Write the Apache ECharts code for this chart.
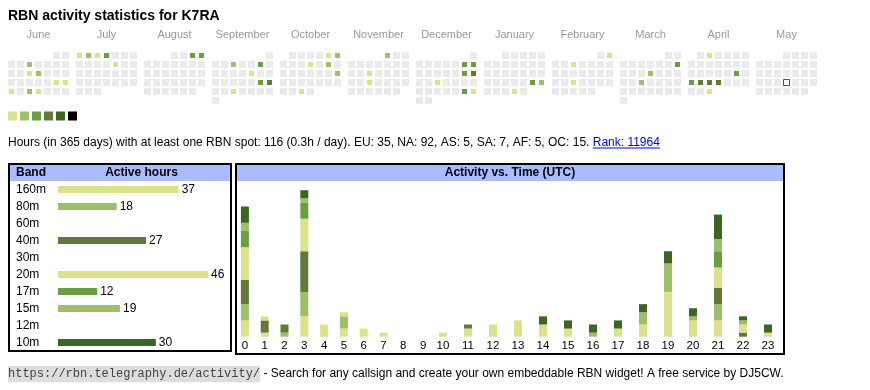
<!DOCTYPE html>
<html><head><meta charset="utf-8">
<script src="https://cdn.jsdelivr.net/npm/echarts@6/dist/echarts.min.js"></script>
<style>html,body{margin:0;padding:0;background:#fff}#c{width:870px;height:390px}</style>
</head><body><div id="c"></div>
<script>
// ---------- data ----------
const titleText = 'RBN activity statistics for K7RA';
const months = ['2024-06','2024-07','2024-08','2024-09','2024-10','2024-11','2024-12','2025-01','2025-02','2025-03','2025-04','2025-05'];
const monthNames = ['June','July','August','September','October','November','December','January','February','March','April','May'];
const levelColors = ['#dbe28b','#9dbf69','#699e43','#62793a','#3b6626','#000000'];
const activeDays = [
  ['2024-06-05',2],['2024-06-12',1],['2024-06-13',2],['2024-06-22',1],['2024-06-23',1],['2024-06-24',1],['2024-06-26',2],['2024-06-27',1],
  ['2024-07-01',1],['2024-07-02',2],['2024-07-03',1],['2024-07-04',3],['2024-07-12',1],
  ['2024-08-03',3],['2024-08-04',3],
  ['2024-09-04',2],['2024-09-07',3],['2024-09-13',1],['2024-09-21',3],['2024-09-22',4],['2024-09-25',1],
  ['2024-10-05',1],['2024-10-06',2],['2024-10-10',1],['2024-10-12',2],['2024-10-20',2],['2024-10-30',1],
  ['2024-11-01',2],['2024-11-13',1],['2024-11-20',1],
  ['2024-12-07',3],['2024-12-08',3],['2024-12-14',3],['2024-12-15',4],['2024-12-18',1],['2024-12-28',3],['2024-12-29',1],
  ['2025-01-25',3],['2025-01-26',2],['2025-01-30',1],
  ['2025-02-02',1],['2025-02-05',1],['2025-02-19',1],
  ['2025-03-09',3],['2025-03-13',2],['2025-03-19',2],
  ['2025-04-02',1],['2025-04-19',3],['2025-04-21',3],['2025-04-22',4],['2025-04-23',4],['2025-04-24',4],['2025-04-30',1]
];
const today = '2025-05-22';
const statsText = 'Hours (in 365 days) with at least one RBN spot: 116 (0.3h / day). EU: 35, NA: 92, AS: 5, SA: 7, AF: 5, OC: 15. ';
const rankText = 'Rank: 11964';
const footerUrl = 'https://rbn.telegraphy.de/activity/';
const footerText = ' - Search for any callsign and create your own embeddable RBN widget! A free service by DJ5CW.';

const bands = ['160m','80m','60m','40m','30m','20m','17m','15m','12m','10m'];
const bandHours = [37,18,0,27,0,46,12,19,0,30];
const bandColors = ['#dbe28b','#9dbf69','#b0b0b0','#62793a','#8a8a8a','#dbe28b','#699e43','#9dbf69','#707070','#3b6626'];

const hours = ['0','1','2','3','4','5','6','7','8','9','10','11','12','13','14','15','16','17','18','19','20','21','22','23'];
const act160 = [4,1,0,5,3,2,2,1,0,0,1,2,3,4,3,2,0,0,0,0,0,4,0,0];
const act80  = [4,0,1,6,0,3,0,0,0,0,0,0,0,0,0,0,0,0,0,0,0,4,0,0];
const act60  = [0,0,0,0,0,0,0,0,0,0,0,0,0,0,0,0,0,0,0,0,0,0,0,0];
const act40  = [6,3,2,10,0,0,0,0,0,0,0,1,0,0,0,0,0,0,0,0,0,4,1,0];
const act30  = [0,0,0,0,0,0,0,0,0,0,0,0,0,0,0,0,0,0,0,0,0,0,0,0];
const act20  = [8,1,0,8,0,1,0,0,0,0,0,0,0,0,0,0,0,2,3,11,4,5,2,1];
const act17  = [4,0,0,4,0,0,0,0,0,0,0,0,0,0,0,0,0,0,0,0,0,4,0,0];
const act15  = [2,0,0,1,0,0,0,0,0,0,0,0,0,0,0,0,1,0,3,7,1,3,1,0];
const act12  = [0,0,0,0,0,0,0,0,0,0,0,0,0,0,0,0,0,0,0,0,0,0,0,0];
const act10  = [4,0,0,2,0,0,0,0,0,0,0,0,0,0,2,2,2,2,2,3,2,6,1,2];
const bandActivity = [act160,act80,act60,act40,act30,act20,act17,act15,act12,act10];

// ---------- layout ----------
const FONT = 'Liberation Sans, Arial, sans-serif';
const MONO = 'Liberation Mono, DejaVu Sans Mono, monospace';
const calLeft0 = 7, calPitch = 68, calTop = 51, cell = 9;
const split = 10; // hours 0-9 in first grid, 10-23 in second
const ctx = document.createElement('canvas').getContext('2d');
function tw(t, font){ ctx.font = font; return ctx.measureText(t).width; }

const statsFS = 12, statsY = 142.5;
const statsW = tw(statsText, statsFS + 'px ' + FONT);
const rankW = tw(rankText, statsFS + 'px ' + FONT);
const footY = 374, footFS = 12, monoFS = 12;
const urlW = tw(footerUrl, monoFS + 'px ' + MONO);

const graphics = [];
graphics.push({type:'text', x:8, y:16, style:{text:titleText, font:'bold 14px ' + FONT, fill:'#000', verticalAlign:'middle'}});
monthNames.forEach((m,i)=>{
  graphics.push({type:'text', x:calLeft0 + i*calPitch + 3.5*cell, y:34.5, style:{text:m, font:'11px ' + FONT, fill:'#999', align:'center', verticalAlign:'middle'}});
});
graphics.push({type:'text', x:8, y:statsY, style:{text:statsText, font:statsFS + 'px ' + FONT, fill:'#000', verticalAlign:'middle'}});
graphics.push({type:'text', x:8 + statsW, y:statsY, style:{text:rankText, font:statsFS + 'px ' + FONT, fill:'#0000ee', verticalAlign:'middle'}});
graphics.push({type:'line', shape:{x1:8 + statsW, y1:statsY + 5.5, x2:8 + statsW + rankW, y2:statsY + 5.5}, style:{stroke:'#0000ee', lineWidth:1}});
graphics.push({type:'rect', shape:{x:8, y:footY - 8, width:urlW, height:16}, style:{fill:'#dddddd'}});
graphics.push({type:'text', x:8, y:footY, style:{text:footerUrl, font:monoFS + 'px ' + MONO, fill:'#444', verticalAlign:'middle'}});
graphics.push({type:'text', x:8 + urlW, y:footY, style:{text:footerText, font:footFS + 'px ' + FONT, fill:'#000', verticalAlign:'middle'}});
// band table box
graphics.push({type:'rect', shape:{x:10, y:165, width:220, height:16}, style:{fill:'#aabbff'}});
graphics.push({type:'rect', shape:{x:9, y:164, width:222, height:187}, style:{fill:null, stroke:'#000', lineWidth:2}});
graphics.push({type:'text', x:16, y:173, style:{text:'Band', font:'bold 12px ' + FONT, fill:'#000', verticalAlign:'middle'}});
graphics.push({type:'text', x:141.5, y:173, style:{text:'Active hours', font:'bold 12px ' + FONT, fill:'#000', align:'center', verticalAlign:'middle'}});
// activity box
graphics.push({type:'rect', shape:{x:237, y:165, width:546, height:16}, style:{fill:'#aabbff'}});
graphics.push({type:'rect', shape:{x:236, y:164, width:548, height:190}, style:{fill:null, stroke:'#000', lineWidth:2}});
graphics.push({type:'text', x:510, y:173, style:{text:'Activity vs. Time (UTC)', font:'bold 12px ' + FONT, fill:'#000', align:'center', verticalAlign:'middle'}});

const calendars = months.map((m,i)=>({
  orient:'vertical', range:m,
  left: calLeft0 + i*calPitch, top: calTop, cellSize:[cell,cell],
  dayLabel:{show:false, firstDay:1}, monthLabel:{show:false}, yearLabel:{show:false},
  splitLine:{show:false},
  itemStyle:{color:'#ebebeb', borderColor:'#ffffff', borderWidth:2}
}));

const series = [];
months.forEach((m,i)=>{
  series.push({type:'heatmap', coordinateSystem:'calendar', calendarIndex:i,
    data: activeDays.filter(d=>d[0].slice(0,7)===m),
    itemStyle:{borderColor:'#ffffff', borderWidth:2}});
});
series.push({type:'bar', xAxisIndex:0, yAxisIndex:0, barWidth:7,
  data: bandHours.map((v,i)=>({value:v, itemStyle:{color:bandColors[i]}})),
  label:{show:true, position:'right', distance:3, fontSize:12, color:'#000', fontFamily:FONT,
    formatter:p=>p.value ? String(p.value) : ''}});
bands.forEach((b,i)=>{
  series.push({type:'bar', name:b, xAxisIndex:1, yAxisIndex:1, stack:'early', barWidth:8,
    itemStyle:{color:bandColors[i]}, data: bandActivity[i].slice(0,split)});
  series.push({type:'bar', name:b, xAxisIndex:2, yAxisIndex:2, stack:'late', barWidth:8,
    itemStyle:{color:bandColors[i]}, data: bandActivity[i].slice(split)});
});

const hourAxis = (gi, data)=>({gridIndex:gi, type:'category', data, axisLine:{show:false}, axisTick:{show:false},
  axisLabel:{fontSize:11.5, color:'#000', margin:3, interval:0, fontFamily:FONT}});
const valAxis = (gi)=>({gridIndex:gi, type:'value', min:0, max:36, show:false});

const chart = echarts.init(document.getElementById('c'), null, {renderer:'canvas'});
chart.setOption({
  animation:false,
  textStyle:{fontFamily:FONT},
  calendar: calendars,
  visualMap:{type:'piecewise', seriesIndex: months.map((m,i)=>i),
    pieces: levelColors.map((c,i)=>({value:i+1, color:c})),
    orient:'horizontal', left:8, top:111.5, itemWidth:9, itemHeight:9, itemGap:3,
    showLabel:false, itemSymbol:'rect', selectedMode:false, padding:0},
  grid:[
    {left:58, top:181, width:150, height:170},
    {left:235, top:190.2, width:198, height:146.5},
    {left:430.5, top:190.2, width:350, height:146.5}
  ],
  xAxis:[
    {gridIndex:0, type:'value', min:0, max:46, show:false},
    hourAxis(1, hours.slice(0,split)),
    hourAxis(2, hours.slice(split))
  ],
  yAxis:[
    {gridIndex:0, type:'category', data:bands, inverse:true, axisLine:{show:false}, axisTick:{show:false},
      axisLabel:{align:'left', margin:42, fontSize:12, color:'#000', fontFamily:FONT}},
    valAxis(1), valAxis(2)
  ],
  graphic: graphics,
  series
});
// today marker: red outlined cell, placed through the calendar coordinate system
const tp = chart.convertToPixel({calendarIndex: months.indexOf(today.slice(0,7))}, today);
if (tp) {
  graphics.push({type:'rect', z:100, shape:{x:tp[0]-3, y:tp[1]-3, width:6, height:6},
    style:{fill:'#ffffff', stroke:'#ff0000', lineWidth:1}});
  chart.setOption({graphic: graphics});
}
</script></body></html>
